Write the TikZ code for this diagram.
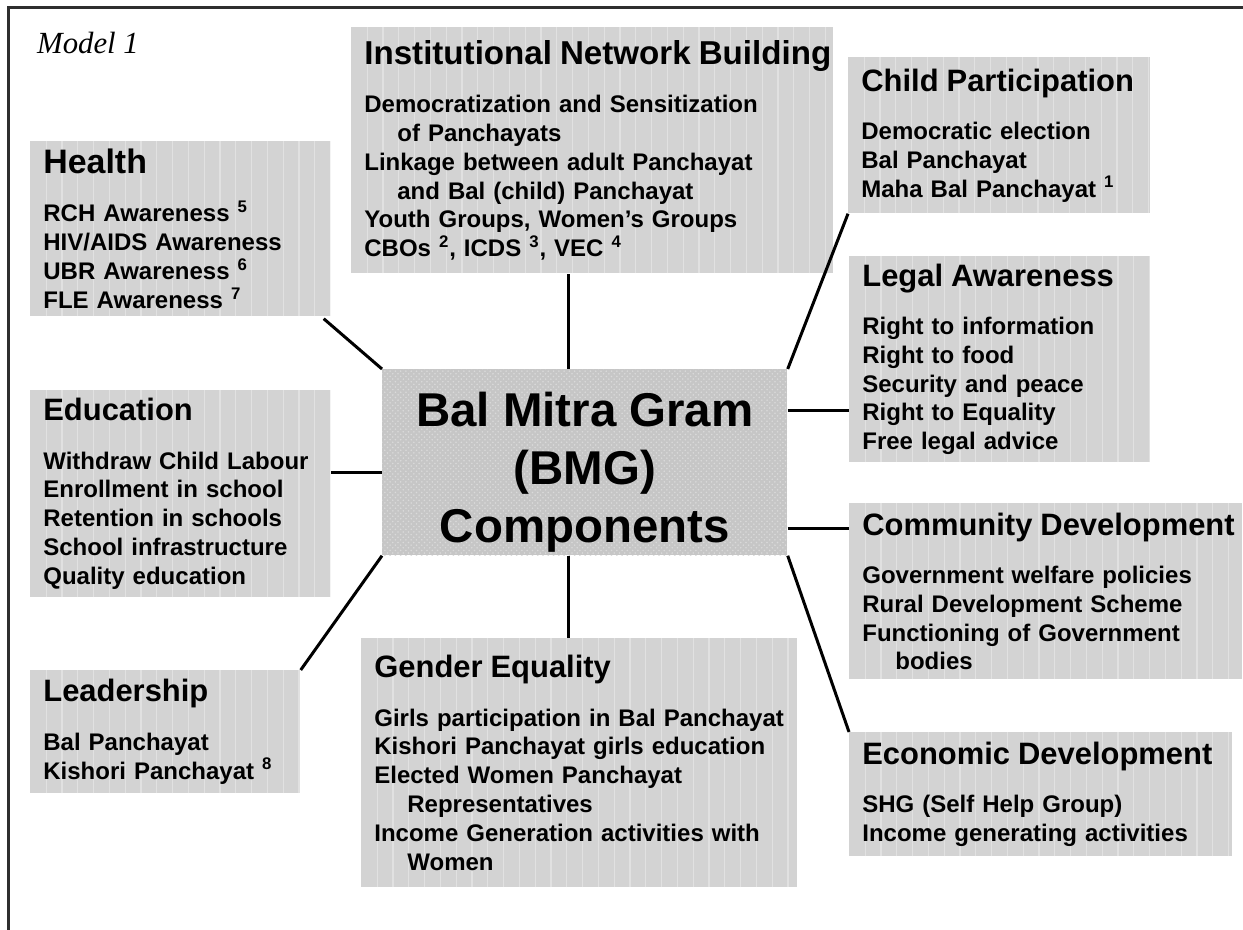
\documentclass[tikz,border=0pt]{standalone}
\usepackage{fontspec}
\setsansfont{Liberation Sans}
\newfontfamily\captionserif{Liberation Serif}
\usepackage{tikz}
\usetikzlibrary{positioning, calc, patterns}

\definecolor{panelgray}{HTML}{D3D3D3}
\definecolor{stripegray}{HTML}{E1E1E1}
\definecolor{centregray}{HTML}{C6C6C6}
\definecolor{speckgray}{HTML}{DADADA}
\definecolor{framegray}{HTML}{2E2E2E}

\newcommand{\fnote}[1]{\textsuperscript{#1}}
\newcommand{\paneltitle}[2][17.6]{\mbox{\fontsize{#1}{20}\selectfont #2}\\[11.1pt]}
\newcommand{\wrapline}[1]{\hspace*{0.66cm}#1}

\begin{document}
\begin{tikzpicture}[
    font=\sffamily\bfseries\fontsize{13.66}{16.4}\selectfont,
    % Boxes - grey panels with light vertical stripes
    stripes/.style={path picture={
        \foreach \k in {1,...,62}
          \draw[stripegray, line width=0.7pt]
            ([xshift=\k*0.316cm]path picture bounding box.south west) --
            ([xshift=\k*0.316cm]path picture bounding box.north west);}},
    panel/.style 2 args={anchor=north west, fill=panelgray, stripes, align=left,
        inner xsep=0.26cm, inner ysep=0pt, text width=#1cm-0.52cm,
        minimum width=#1cm, minimum height=#2cm},
    hub/.style={anchor=north west, preaction={fill=centregray}, pattern=crosshatch dots,
        pattern color=speckgray, align=center, inner ysep=0pt,
        minimum width=8.1cm, minimum height=3.72cm,
        font=\sffamily\bfseries\fontsize{27}{33}\selectfont},
    spoke/.style={draw=black, line width=0.06cm}
]
\useasboundingbox (0,0) rectangle (24.86,-18.6);

% ========== Frame and caption ==========
\draw[framegray, line width=0.06cm] (0.17,-18.6) -- (0.17,-0.15) -- (24.86,-0.15);
\node[anchor=west, font=\captionserif\mdseries\itshape\fontsize{17.5}{20}\selectfont] (model) at (0.62,-0.86) {Model 1};

% ========== Centre ==========
\node[hub] (centre) at (7.64,-7.38) {\rule{0pt}{31pt}Bal Mitra Gram\\(BMG)\\Components};

% ========== Left column ==========
\node[panel={6.0}{3.5}] (health) at (0.6,-2.82) {\paneltitle[19.3]{Health}
    RCH Awareness \fnote{5}\\
    HIV/AIDS Awareness\\
    UBR Awareness \fnote{6}\\
    FLE Awareness \fnote{7}};

\node[panel={6.0}{4.14}] (edu) at (0.6,-7.8) {\paneltitle{Education}
    Withdraw Child Labour\\
    Enrollment in school\\
    Retention in schools\\
    School infrastructure\\
    Quality education};

\node[panel={5.4}{2.46}] (lead) at (0.6,-13.4) {\paneltitle{Leadership}
    Bal Panchayat\\
    Kishori Panchayat \fnote{8}};

% ========== Top and bottom ==========
\node[panel={9.64}{4.92}] (inst) at (7.02,-0.54) {\paneltitle[18.85]{Institutional Network Building}
    Democratization and Sensitization\\
    \wrapline{of Panchayats}\\
    Linkage between adult Panchayat\\
    \wrapline{and Bal (child) Panchayat}\\
    Youth Groups, Women’s Groups\\
    CBOs \fnote{2}, ICDS \fnote{3}, VEC \fnote{4}};

\node[panel={8.72}{4.98}] (gender) at (7.22,-12.76) {\paneltitle{Gender Equality}
    Girls participation in Bal Panchayat\\
    Kishori Panchayat girls education\\
    Elected Women Panchayat\\
    \wrapline{Representatives}\\
    Income Generation activities with\\
    \wrapline{Women}};

% ========== Right column ==========
\node[panel={6.04}{3.12}] (child) at (16.96,-1.14) {\paneltitle{Child Participation}
    Democratic election\\
    Bal Panchayat\\
    Maha Bal Panchayat \fnote{1}};

\node[panel={6.02}{4.12}] (legal) at (16.98,-5.12) {\paneltitle{Legal Awareness}
    Right to information\\
    Right to food\\
    Security and peace\\
    Right to Equality\\
    Free legal advice};

\node[panel={7.86}{3.52}] (comm) at (16.98,-10.06) {\paneltitle{Community Development}
    Government welfare policies\\
    Rural Development Scheme\\
    Functioning of Government\\
    \wrapline{bodies}};

\node[panel={7.66}{2.48}] (econ) at (16.98,-14.64) {\paneltitle{Economic Development}
    SHG (Self Help Group)\\
    Income generating activities};

% ========== Spokes ==========
\draw[spoke] ($(centre.north)+(-0.33,0)$) coordinate (topjoin) -- (topjoin |- inst.south);
\draw[spoke] ($(centre.south)+(-0.33,0)$) coordinate (botjoin) -- (botjoin |- gender.north);
\draw[spoke] ($(health.south east)+(-0.14,-0.04)$) -- (centre.north west);
\draw[spoke] ($(centre.west)+(0,-0.2)$) coordinate (edujoin) -- (edujoin -| edu.east);
\draw[spoke] (lead.north east) -- (centre.south west);
\draw[spoke] (child.south west) -- (centre.north east);
\draw[spoke] ($(centre.east)+(0,1.04)$) coordinate (legaljoin) -- (legaljoin -| legal.west);
\draw[spoke] ($(centre.east)+(0,-1.32)$) coordinate (commjoin) -- (commjoin -| comm.west);
\draw[spoke] (centre.south east) -- (econ.north west);

\end{tikzpicture}
\end{document}
